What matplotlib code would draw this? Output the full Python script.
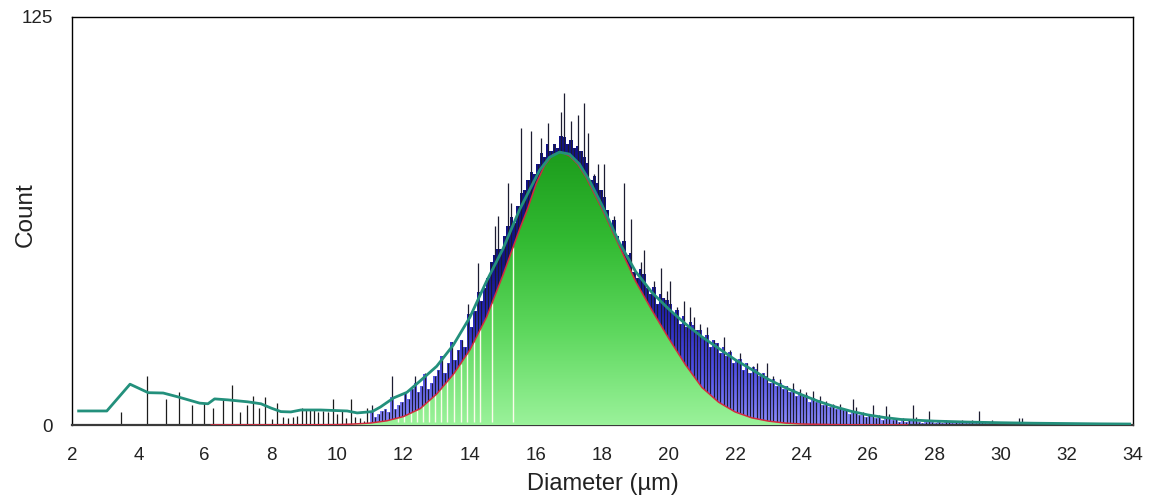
"""Particle size distribution: raw counts, smoothed curve and fitted peak."""
import matplotlib as mpl
import matplotlib.pyplot as plt
import numpy as np
from matplotlib.colors import LinearSegmentedColormap

mpl.rcParams.update({
    "font.family": ["Liberation Sans", "DejaVu Sans"],
})

# sparse single counts at small diameters (µm, count)
SPARSE_X = [3.48, 4.26, 4.83, 5.23, 5.62, 5.98, 6.25, 6.55, 6.83, 7.07,
            7.28, 7.46, 7.64, 7.82, 8.03, 8.18, 8.36, 8.51, 8.66, 8.79,
            8.94, 9.06, 9.18, 9.30, 9.42, 9.57, 9.72, 9.87, 10.00, 10.14,
            10.27, 10.42, 10.53, 10.68, 10.80, 10.90]
SPARSE_Y = [4, 15, 8, 10, 6, 6.7, 5.2, 7.7, 12.3, 4,
            6, 8.9, 5.2, 8.6, 1.8, 6.7, 2.5, 2.1, 2.5, 2.8,
            5.2, 5, 5, 5, 4, 4.4, 4, 8, 3.5, 4.4,
            2.1, 8, 2.5, 2.1, 1.2, 5.2]

# dense histogram, 0.1 µm bins starting at 11.0 µm
BIN_START = 11.0
BIN_WIDTH = 0.1
COUNTS = [
    6, 2.5, 3.5, 4.4, 5, 4, 15, 5, 6, 7,                 # 11
    9.8, 8, 11, 15, 10, 12, 16, 11, 13, 15,              # 12
    17, 21, 16, 19, 25.4, 20, 23, 26, 24, 37,            # 13
    30, 35, 49.6, 38, 42, 45, 50, 61, 64, 54,            # 14
    58, 74, 68, 62, 67, 91, 72, 75, 90, 77,              # 15
    80, 88, 82, 92.5, 84, 86, 85, 96, 101.7, 86,         # 16
    93, 85, 95, 84, 98.6, 89.5, 75, 77, 80, 72,          # 17
    80, 66, 60, 64, 58, 55, 74, 52, 63, 47,              # 18
    45, 50, 53.6, 42, 40, 44, 37, 48, 39, 41,            # 19
    44, 34, 36, 31, 38, 30, 36, 33, 29, 31,              # 20
    27, 30, 24, 26, 25, 22, 27, 21, 23, 19,              # 21
    20, 22, 17, 19, 16, 18, 19, 15, 16, 19,              # 22
    13, 15, 12, 14, 11, 12, 10, 13, 9, 11,               # 23
    9, 10, 7, 10.4, 7, 9, 6, 7.5, 5.5, 6.5,              # 24
    5, 6.5, 4.5, 5, 3.5, 8, 5.5, 3, 4, 2.5,              # 25
    3, 6, 2, 3, 1.5, 5.8, 3.5, 1.5, 2, 1,                # 26
    2, 1, 1.5, 6, 2.5, 1, 0.5, 1, 4.3, 1,                # 27
    0.5, 1, 0.5, 1.5, 1, 0.5, 1, 0.5, 1.5, 0.5,          # 28
    0.5, 1.5, 0.5, 4.3, 1, 0.5, 0.5, 1.5, 1, 0.5,        # 29
    0.5, 1, 0.5, 1, 0.5, 2, 2, 0, 0.5, 0,                # 30
]

# smoothed distribution (teal line)
SMOOTH_X = [2.2, 3.05, 3.75, 4.3, 4.75, 5.2, 5.85, 6.1, 6.3, 6.7,
            7.3, 7.7, 8.0, 8.3, 8.6, 8.9, 9.5, 10.3, 10.6, 11.05,
            11.3, 11.7, 12.1, 12.5, 13.0, 13.5, 14.0, 14.5, 15.0, 15.5,
            15.8, 16.1, 16.4, 16.7, 17.0, 17.3, 17.6, 18.0, 18.5, 19.0,
            19.5, 20.0, 20.5, 21.0, 21.5, 22.0, 22.5, 23.0, 23.5, 24.0,
            24.5, 25.0, 25.5, 26.0, 26.5, 27.0, 28.0, 29.0, 30.0, 31.0,
            32.0, 33.0, 33.9]
SMOOTH_Y = [4.3, 4.3, 12.5, 9.9, 9.8, 8.6, 6.7, 6.5, 8.0, 7.7,
            7.1, 6.5, 5.2, 4.1, 4.0, 4.6, 4.6, 4.3, 3.7, 4.1,
            5.5, 8.3, 10.0, 13.5, 18.0, 24.5, 33.0, 44.0, 54.0, 66.0,
            72.0, 78.0, 82.0, 83.6, 83.0, 80.0, 75.0, 67.0, 56.0, 47.0,
            40.5, 35.5, 31.0, 27.0, 23.5, 20.0, 17.0, 14.0, 11.5, 9.3,
            7.3, 5.6, 4.2, 3.1, 2.3, 1.7, 1.2, 0.9, 0.7, 0.55,
            0.45, 0.35, 0.3]

# fitted peak (green fill, red outline)
FIT_X = [6.2, 9.0, 10.0, 10.5, 11.0, 11.5, 12.0, 12.5, 13.0, 13.5,
         14.0, 14.5, 15.0, 15.5, 15.75, 16.0, 16.25, 16.5, 16.75, 17.0,
         17.25, 17.5, 17.75, 18.0, 18.5, 19.0, 19.5, 20.0, 20.5, 21.0,
         21.5, 22.0, 22.5, 23.0, 23.5, 24.0, 25.0, 26.0, 27.2]
FIT_Y = [0, 0.05, 0.1, 0.3, 0.6, 1.3, 2.6, 5.0, 9.5, 15.5,
         23.0, 33.0, 46.0, 60.0, 66.5, 74.0, 79.5, 82.8, 83.6, 82.5,
         80.0, 76.0, 71.0, 66.0, 55.0, 44.0, 35.0, 26.5, 18.5, 11.5,
         7.0, 4.0, 2.2, 1.2, 0.6, 0.3, 0.1, 0.03, 0]

# thin white gaps showing through the green fill
GAP_X = [11.82, 12.02, 12.22, 12.42, 12.6, 12.78, 12.96, 13.14, 13.32,
         13.52, 13.72, 13.92, 14.12, 14.32, 14.67, 15.3]

X_TICKS = list(range(2, 35, 2))
Y_TICKS = [0, 125]


def _gradient(ax, cmap, top, clip):
    ys = np.linspace(0, 125, 600)
    grad = np.clip(ys / top, 0, 1).reshape(-1, 1)
    img = ax.imshow(grad, extent=[2, 34, 0, 125], origin="lower",
                    aspect="auto", cmap=cmap, vmin=0, vmax=1,
                    interpolation="bilinear", zorder=clip.get_zorder())
    img.set_clip_path(clip)
    return img


def main() -> None:
    fig = plt.figure(figsize=(11.71, 5.0), dpi=100)
    ax = fig.add_axes([72 / 1171, 75 / 500, 1061 / 1171, 408 / 500])

    counts = np.array(COUNTS)
    edges = BIN_START + BIN_WIDTH * np.arange(len(counts) + 1)
    centers = edges[:-1] + BIN_WIDTH / 2

    # blue body: bars filled only up to just above the smooth curve,
    # taller bins stick out as bare black lines
    body = np.minimum(counts, np.interp(centers, SMOOTH_X, SMOOTH_Y) * 1.06)
    blue_cmap = LinearSegmentedColormap.from_list(
        "blue", ["#8c8cff", "#5050e6", "#2626b8", "#121288"])
    step = ax.stairs(body, edges, fill=True, facecolor="none",
                     edgecolor="none", zorder=1)
    _gradient(ax, blue_cmap, 50, step)

    ax.vlines(centers, 0, counts, color="#1c1c30", lw=0.9, zorder=2)
    ax.vlines(SPARSE_X, 0, SPARSE_Y, color="#1c1c1c", lw=0.9, zorder=2)

    # fitted peak
    green_cmap = LinearSegmentedColormap.from_list(
        "green", ["#9af29a", "#5fd85f", "#33bb33", "#1c9c1c"])
    poly = ax.fill(FIT_X, FIT_Y, facecolor="none", edgecolor="none",
                   zorder=3)[0]
    _gradient(ax, green_cmap, 84, poly)

    gap_top = np.interp(GAP_X, FIT_X, FIT_Y)
    ax.vlines(GAP_X, 0.8, gap_top, color="#fbfbec", lw=1.0, zorder=3.5)

    ax.plot(FIT_X, FIT_Y, color="#d42a3e", lw=1.1, zorder=4)
    ax.plot(SMOOTH_X, SMOOTH_Y, color="#23907c", lw=2.0, zorder=5,
            solid_joinstyle="round")

    ax.set_xlim(2, 34)
    ax.set_ylim(0, 125)
    ax.set_xticks(X_TICKS)
    ax.set_yticks(Y_TICKS)
    ax.tick_params(axis="both", length=0, labelsize=13.5, colors="#222222")
    ax.tick_params(axis="x", pad=16)
    ax.tick_params(axis="y", pad=14)
    for side in ("left", "top", "right"):
        ax.spines[side].set_linewidth(1.0)
    ax.spines["bottom"].set_linewidth(1.6)
    ax.spines["bottom"].set_color("#3a3a3a")

    ax.set_xlabel("Diameter (µm)", fontsize=17, color="#222222")
    ax.xaxis.set_label_coords(0.5, -0.118)
    ax.set_ylabel("Count", fontsize=17.5, color="#222222")
    ax.yaxis.set_label_coords(-0.033, 0.515)

    fig.savefig("out.png", dpi=100)
    plt.close(fig)


if __name__ == "__main__":
    main()
